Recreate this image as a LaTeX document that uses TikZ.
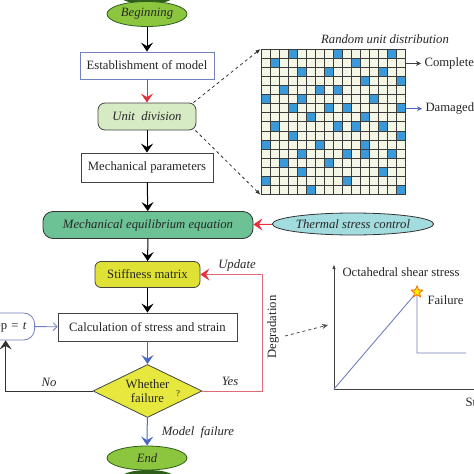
\documentclass[tikz,border=0pt]{standalone}
\usepackage{fontspec}
\setmainfont{Liberation Serif}
\usetikzlibrary{arrows.meta,shapes.geometric,calc}
\definecolor{gstart}{HTML}{8CC63F}
\definecolor{gdark}{HTML}{2F5E1B}
\definecolor{unitf}{HTML}{D6EAC4}
\definecolor{equilf}{HTML}{6CC295}
\definecolor{thermf}{HTML}{A3DCDF}
\definecolor{stifff}{HTML}{DFE134}
\definecolor{diaf}{HTML}{E6E83E}
\definecolor{bordr}{HTML}{444444}
\definecolor{bluebd}{HTML}{7080C0}
\definecolor{redar}{HTML}{E8303A}
\definecolor{updl}{HTML}{E06A78}
\definecolor{bluar}{HTML}{4A68C4}
\definecolor{cellf}{HTML}{F4F7E6}
\definecolor{cellb}{HTML}{3A9AD9}
\definecolor{gridl}{HTML}{3B3B3B}
\definecolor{curvc}{HTML}{6F7FC0}
\tikzset{
  txt/.style={font=\fontsize{12.7}{14}\selectfont, text=black!85},
  itxt/.style={font=\fontsize{12.7}{14}\selectfont\itshape, text=black!85},
  boxn/.style={draw=bordr, line width=0.8pt, fill=white, inner sep=2pt},
  flowar/.style={line width=1pt, -{Stealth[length=9pt,width=12pt,inset=3.5pt]}},
  blkar/.style={flowar, draw=black},
  redarr/.style={flowar, draw=redar, color=redar},
  bluarr/.style={flowar, draw=bluar, color=bluar},
  thinar/.style={line width=0.7pt, -{Stealth[length=5pt,width=5pt]}},
  starn/.style={star, star points=5, star point ratio=2.2, minimum size=12pt, inner sep=0pt, fill=yellow!90!orange, draw=orange!80!red, line width=0.8pt},
}
\begin{document}
\begin{tikzpicture}[x=1pt,y=-1pt]
\useasboundingbox (0,0) rectangle (474,474);
\clip (0,0) rectangle (474,474);
\fill[white] (0,0) rectangle (474,474);

% start / end shadows
\fill[gdark] (147,-3) ellipse [x radius=26, y radius=7];
\fill[gdark] (148,477) ellipse [x radius=26, y radius=7];

% flow nodes
\node[ellipse, draw=gdark, line width=0.8pt, fill=gstart, minimum width=80pt, minimum height=25pt, inner sep=0pt, itxt] (beg) at (147,14) {Beginning};
\node[boxn, draw=bluebd, minimum width=134pt, minimum height=27pt, txt] (est) at (147,65.5) {Establishment of model};
\node[boxn, rounded corners=7pt, fill=unitf, minimum width=98pt, minimum height=27pt, itxt] (unit) at (147,116.5) {Unit\ \ division};
\node[boxn, minimum width=132pt, minimum height=29pt, txt] (mech) at (147,167.5) {Mechanical parameters};
\node[boxn, rounded corners=10pt, fill=equilf, draw=black!80, minimum width=210pt, minimum height=27pt, itxt] (equil) at (148,225) {Mechanical equilibrium equation};
\node[ellipse, draw=black!80, line width=0.8pt, fill=thermf, minimum width=161pt, minimum height=22pt, inner sep=0pt, itxt] (therm) at (353,224) {Thermal stress control};
\node[boxn, rounded corners=6pt, fill=stifff, minimum width=105pt, minimum height=26pt, txt] (stiff) at (147.5,274.5) {Stiffness matrix};
\node[boxn, minimum width=179pt, minimum height=28pt, txt] (calc) at (147.5,327) {Calculation of stress and strain};
\node[boxn, draw=bluebd, rounded corners=11pt, minimum height=27pt, inner xsep=8pt, anchor=east, txt] (stepb) at (35,326.5) {Step\,\,=\,\,\textit{t}};
\node[diamond, draw=bordr, line width=0.8pt, fill=diaf, minimum width=109pt, minimum height=53pt, inner sep=0pt, aspect=2.05, align=center, txt] (dia) at (147.5,391) {Whether\\failure};
\node[font=\fontsize{9}{10}\selectfont, text=black!85] (qm) at (178,394) {?};
\node[ellipse, draw=gdark, line width=0.8pt, fill=gstart, minimum width=80pt, minimum height=24pt, inner sep=0pt, itxt] (endn) at (147,458) {End};

% flow arrows
\draw[blkar] (beg) -- (est);
\draw[redarr] (est) -- (unit);
\draw[blkar] (unit) -- (mech);
\draw[blkar] (mech) -- (equil);
\draw[redarr] (therm) -- (equil);
\draw[blkar] (equil) -- (stiff);
\draw[blkar] (stiff) -- (calc);
\draw[bluarr] (calc) -- (dia);
\draw[bluarr] (dia) -- (endn);
\draw[line width=0.8pt, draw=bluebd, -{Straight Barb[length=4pt,width=8pt]}] (stepb) -- (calc);
\draw[line width=0.9pt, draw=black!80, -{Stealth[length=9pt,width=12pt,inset=3.5pt]}] (dia.west) -| (stepb.south);
\draw[line width=0.9pt, draw=updl, -{Stealth[length=9pt,width=12pt,inset=3.5pt,color=redar]}] (dia.east) -- ++(60,0) |- (stiff.east);

% labels
\node[itxt] (lno) at (49,382) {No};
\node[itxt] (lyes) at (230,381) {Yes};
\node[itxt] (lupd) at (237,265) {Update};
\node[itxt] (lmf) at (198,432) {Model\ \ failure};
\node[txt, rotate=90] (ldeg) at (273,327) {Degradation};

% grid
\node[itxt] (lrand) at (385,39) {Random unit distribution};
\fill[cellf] (261,49.5) rectangle (405.8,194.3);
\foreach \r/\c in {0/3,0/8,0/14,1/1,1/10,2/4,2/7,2/13,3/11,3/15,4/2,4/6,4/8,5/0,5/4,5/12,6/3,6/7,6/9,6/15,7/5,7/11,8/1,8/8,8/10,8/13,9/3,9/15,10/0,10/6,10/11,11/4,11/9,11/11,11/14,12/2,12/7,13/4,13/13,14/0,14/9,15/5,15/15}
  \fill[cellb] ({261+\c*9.05},{49.5+\r*9.05}) rectangle ++(9.05,9.05);
\foreach \k in {0,...,16} {
  \draw[gridl, line width=0.9pt] ({261+\k*9.05},49.5) -- ({261+\k*9.05},194.3);
  \draw[gridl, line width=0.9pt] (261,{49.5+\k*9.05}) -- (405.8,{49.5+\k*9.05});
}
\coordinate (gtl) at (260.5,49);
\coordinate (gbl) at (260.5,194.8);
\draw[dashed, line width=0.8pt, black!80, -{Latex[length=5pt,width=4pt]}] (unit.north east) ++(-3,0) -- (gtl);
\draw[dashed, line width=0.8pt, black!80, -{Latex[length=5pt,width=4pt]}] (unit.south east) ++(-1,0) -- (gbl);

\coordinate (cpa) at (406,63.4);
\coordinate (dma) at (406,108.7);
\node[txt, anchor=west] (lcomp) at (421,63.4) {Complete};
\node[txt, anchor=west] (ldam) at (422,108.7) {Damaged};
\draw[thinar, black!75] (cpa) -- (lcomp.west);
\draw[thinar, bluar] (dma) -- (ldam.west);

% graph
\coordinate (orig) at (334,389);
\coordinate (ytop) at (334,264);
\coordinate (xend) at (480,389);
\draw[line width=0.9pt, black!75, -{Latex[length=5pt,width=3.5pt]}] (orig) -- (ytop);
\draw[line width=0.9pt, black!75] (orig) -- (xend);
\node[txt, anchor=west] (lyax) at (339,272) {Octahedral shear stress};
\node[txt, anchor=west] (lxax) at (462,402) {Strain};
\coordinate (peak) at (417,292);
\coordinate (drop) at (417,353);
\coordinate (flat) at (466,353);
\draw[line width=0.9pt, curvc] (orig) -- (peak) -- (drop) -- (flat);
\node[starn] (stp) at (peak) {};
\node[txt, anchor=west] (lfail) at (424,300) {Failure};

\coordinate (dga) at (285,336);
\coordinate (dgb) at (328,325);
\draw[dashed, line width=0.8pt, black!70, -{Stealth[length=6pt,width=5pt]}] (dga) -- (dgb);
\end{tikzpicture}
\end{document}
